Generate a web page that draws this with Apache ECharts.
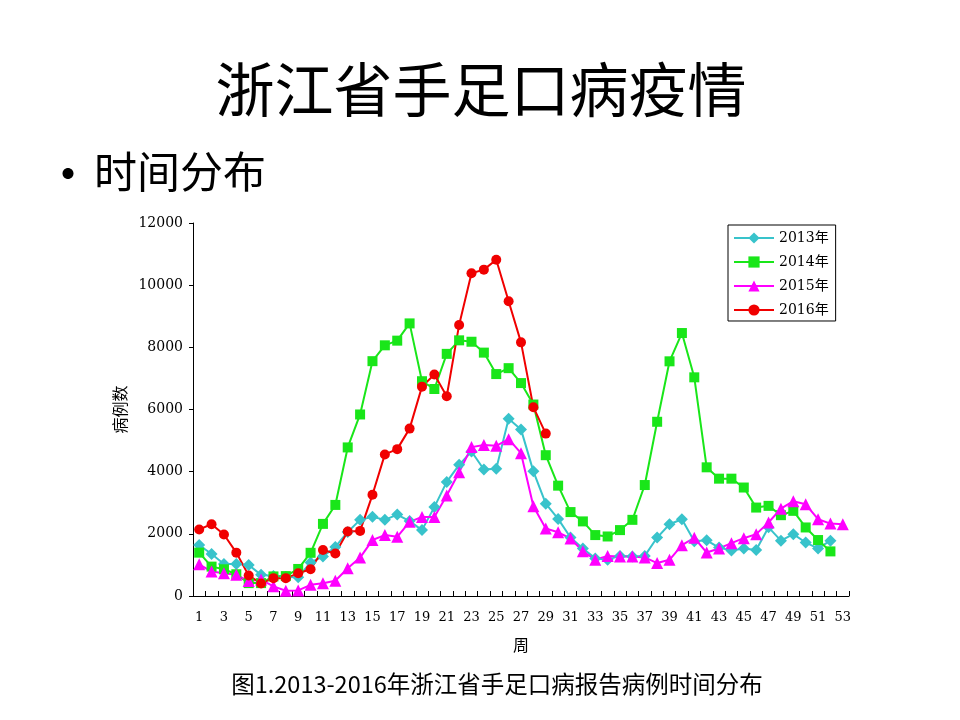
<!DOCTYPE html>
<html>
<head>
<meta charset="UTF-8">
<title>浙江省手足口病疫情</title>
<script src="https://cdn.jsdelivr.net/npm/echarts@6/dist/echarts.min.js"></script>
<style>
html,body{margin:0;padding:0;background:#fff;}
#main{width:960px;height:720px;}
</style>
</head>
<body>
<div id="main"></div>
<script type="text/javascript">
// 周次
var weeks = ['1','2','3','4','5','6','7','8','9','10','11','12','13','14','15','16','17','18','19','20',
  '21','22','23','24','25','26','27','28','29','30','31','32','33','34','35','36','37','38','39','40',
  '41','42','43','44','45','46','47','48','49','50','51','52','53'];

// 各年病例数（按周）
var y2013 = [1640,1350,1030,1030,1000,680,640,610,600,1080,1270,1580,2060,2450,2550,2450,2620,2410,2120,2860,
  3670,4220,4650,4070,4090,5700,5360,4010,2970,2480,1880,1530,1210,1170,1290,1270,1290,1880,2310,2470,
  1760,1790,1560,1460,1530,1480,2210,1780,1990,1720,1530,1780];
var y2014 = [1395,945,860,700,415,415,630,640,870,1390,2320,2930,4780,5840,7555,8065,8215,8770,6910,6660,
  7790,8225,8180,7830,7140,7330,6850,6160,4530,3550,2700,2400,1960,1915,2120,2450,3570,5605,7550,8460,
  7035,4140,3775,3775,3490,2845,2900,2600,2740,2205,1800,1435];
var y2015 = [1020,785,735,680,480,530,310,170,180,360,410,490,895,1235,1800,1960,1905,2385,2545,2545,
  3235,3980,4790,4860,4830,5045,4595,2890,2170,2050,1850,1440,1165,1290,1270,1270,1240,1060,1165,1635,
  1870,1400,1530,1700,1860,1990,2365,2810,3050,2950,2470,2330,2310];
var y2016 = [2140,2310,1980,1395,660,405,575,575,730,860,1480,1370,2075,2095,3255,4555,4725,5385,6735,7125,
  6425,8720,10385,10500,10820,9480,8160,6075,5225];

var yTicks = {min: 0, max: 12000, interval: 2000};

var cjk = '"Noto Sans CJK SC", "Noto Sans", sans-serif';

function makeSeries(name, data, color, symbol, size) {
  return {
    name: name,
    type: 'line',
    data: data,
    symbol: symbol,
    symbolSize: size,
    showAllSymbol: true,
    lineStyle: {color: color, width: 2},
    itemStyle: {color: color, borderWidth: 0},
    emphasis: {disabled: true},
    animation: false
  };
}

var myChart = echarts.init(document.getElementById('main'));
var option = {
  backgroundColor: '#fff',
  animation: false,
  graphic: [
    {type: 'text', x: 481, y: 90, style: {text: '浙江省手足口病疫情', font: '59px ' + cjk, fill: '#000', textAlign: 'center', textVerticalAlign: 'middle'}},
    {type: 'text', x: 68, y: 173, style: {text: '•', font: '52px ' + cjk, fill: '#000', textAlign: 'center', textVerticalAlign: 'middle'}},
    {type: 'text', x: 94, y: 172, style: {text: '时间分布', font: '43px ' + cjk, fill: '#000', textAlign: 'left', textVerticalAlign: 'middle'}},
    {type: 'text', x: 497, y: 684, style: {text: '图1.2013-2016年浙江省手足口病报告病例时间分布', font: '23.5px ' + cjk, fill: '#000', textAlign: 'center', textVerticalAlign: 'middle'}}
  ],
  legend: {
    orient: 'vertical',
    left: 728,
    top: 225,
    padding: [6, 7, 4, 5],
    itemGap: 10,
    itemWidth: 40,
    itemHeight: 14,
    borderColor: '#000',
    borderWidth: 1,
    borderRadius: 0,
    textStyle: {fontFamily: '"DejaVu Serif", ' + cjk, fontSize: 14, color: '#000'},
    data: ['2013年', '2014年', '2015年', '2016年']
  },
  grid: {left: 193, right: 111, top: 223, bottom: 124, containLabel: false},
  xAxis: {
    type: 'category',
    data: weeks,
    boundaryGap: true,
    name: '周',
    nameLocation: 'middle',
    nameGap: 41,
    nameTextStyle: {fontFamily: cjk, fontSize: 16, color: '#000'},
    axisLine: {lineStyle: {color: '#000', width: 1}},
    axisTick: {show: true, inside: true, length: 5, interval: 0, alignWithLabel: false, lineStyle: {color: '#000'}},
    axisLabel: {interval: 1, margin: 15, color: '#000', fontFamily: '"DejaVu Serif", serif', fontSize: 13},
    splitLine: {show: false}
  },
  yAxis: {
    type: 'value',
    min: yTicks.min,
    max: yTicks.max,
    interval: yTicks.interval,
    name: '病例数',
    nameLocation: 'middle',
    nameGap: 61,
    nameTextStyle: {fontFamily: cjk, fontSize: 16, color: '#000'},
    axisLine: {show: true, lineStyle: {color: '#000', width: 1}},
    axisTick: {show: true, inside: false, length: 4, lineStyle: {color: '#000'}},
    axisLabel: {margin: 10, color: '#000', fontFamily: '"DejaVu Serif", serif', fontSize: 14,
      formatter: function (v) { return String(v); }},
    splitLine: {show: false}
  },
  series: [
    makeSeries('2013年', y2013, '#38C3CB', 'diamond', 12),
    makeSeries('2014年', y2014, '#19E619', 'rect', 10),
    makeSeries('2015年', y2015, '#FF00FF', 'triangle', 12),
    makeSeries('2016年', y2016, '#F00000', 'circle', 10)
  ]
};
myChart.setOption(option);
</script>
</body>
</html>
